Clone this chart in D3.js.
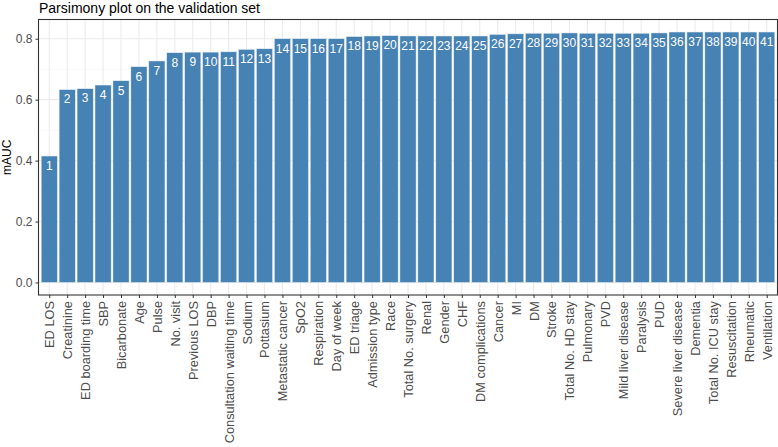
<!DOCTYPE html>
<html>
<head>
<meta charset="utf-8">
<script src="https://cdn.jsdelivr.net/npm/d3@7"></script>
<style>
  body { margin: 0; background: #fff; }
  svg { font-family: "Liberation Sans", Arial, sans-serif; }
</style>
</head>
<body>
<div class="plot"></div>
<script>
// feature order, as added to the model
var features = ["ED LOS", "Creatinine", "ED boarding time", "SBP", "Bicarbonate", "Age", "Pulse",
    "No. visit", "Previous LOS", "DBP", "Consultation waiting time", "Sodium", "Pottasium",
    "Metastatic cancer", "SpO2", "Respiration", "Day of week", "ED triage", "Admission type",
    "Race", "Total No. surgery", "Renal", "Gender", "CHF", "DM complications", "Cancer", "MI",
    "DM", "Stroke", "Total No. HD stay", "Pulmonary", "PVD", "Mild liver disease", "Paralysis",
    "PUD", "Severe liver disease", "Dementia", "Total No. ICU stay", "Resuscitation",
    "Rheumatic", "Ventilation"];

var mauc = [0.415, 0.633, 0.636, 0.648, 0.662, 0.708, 0.727, 0.754, 0.756, 0.756, 0.757,
    0.765, 0.767, 0.800, 0.800, 0.800, 0.800, 0.807, 0.809, 0.810, 0.809, 0.809, 0.809,
    0.809, 0.809, 0.814, 0.816, 0.818, 0.818, 0.819, 0.818, 0.818, 0.818, 0.818, 0.819,
    0.822, 0.822, 0.822, 0.822, 0.822, 0.822];

var yTicks = [0, 0.2, 0.4, 0.6, 0.8];
var yMinor = [0.1, 0.3, 0.5, 0.7];

var W = 778, H = 447,
    m = {t: 19.5, r: 0.5, b: 152, l: 38.5},
    w = W - m.l - m.r,
    h = H - m.t - m.b;

var data = features.map(function(f, i){ return {name: f, rank: i + 1, value: mauc[i]}; });

var svg = d3.select('.plot').append('svg')
    .attr('width', W).attr('height', H);

var g = svg.append('g').attr('transform', 'translate(' + m.l + ',' + m.t + ')');

// ggplot-style discrete expansion (0.6 units each side)
var n = features.length;
var x = d3.scaleLinear().domain([0.4, n + 0.6]).range([0, w]);
var bw = (x(1) - x(0)) * 0.9;

var ymax = d3.max(mauc);
var y = d3.scaleLinear().domain([-ymax * 0.05, ymax * 1.05]).range([h, 0]);

// grid
g.selectAll('.minor').data(yMinor).enter().append('line')
    .attr('x1', 0).attr('x2', w)
    .attr('y1', function(d){ return y(d); }).attr('y2', function(d){ return y(d); })
    .attr('stroke', '#f2f2f2').attr('stroke-width', 0.6);
g.selectAll('.major').data(yTicks).enter().append('line')
    .attr('x1', 0).attr('x2', w)
    .attr('y1', function(d){ return y(d); }).attr('y2', function(d){ return y(d); })
    .attr('stroke', '#ebebeb').attr('stroke-width', 1.1);
g.selectAll('.vgrid').data(data).enter().append('line')
    .attr('x1', function(d){ return x(d.rank); }).attr('x2', function(d){ return x(d.rank); })
    .attr('y1', 0).attr('y2', h)
    .attr('stroke', '#ebebeb').attr('stroke-width', 1.1);

// bars
g.selectAll('.bar').data(data).enter().append('rect')
    .attr('x', function(d){ return x(d.rank) - bw / 2; })
    .attr('width', bw)
    .attr('y', function(d){ return y(d.value); })
    .attr('height', function(d){ return y(0) - y(d.value); })
    .attr('fill', '#4682b4')
    .attr('stroke', '#e8eef4').attr('stroke-width', 0.5);

g.selectAll('.lab').data(data).enter().append('text')
    .attr('x', function(d){ return x(d.rank); })
    .attr('y', function(d){ return y(d.value) + 13.8; })
    .attr('text-anchor', 'middle')
    .attr('fill', '#fff')
    .style('font-size', '12px')
    .text(function(d){ return d.rank; });

// panel border
g.append('rect').attr('width', w).attr('height', h)
    .attr('fill', 'none').attr('stroke', '#333').attr('stroke-width', 1.1);

// y axis
var yAxis = g.append('g').call(d3.axisLeft(y).tickValues(yTicks).tickFormat(d3.format('.1f')).tickSize(3).tickPadding(3));
yAxis.select('.domain').remove();
yAxis.selectAll('line').attr('stroke', '#333');
yAxis.selectAll('text').attr('fill', '#4d4d4d').style('font-size', '12px');

// x axis
var xAxis = g.append('g').attr('transform', 'translate(0,' + h + ')')
    .call(d3.axisBottom(x).tickValues(d3.range(1, n + 1)).tickSize(3)
        .tickFormat(function(d){ return features[d - 1]; }));
xAxis.select('.domain').remove();
xAxis.selectAll('line').attr('stroke', '#333');
xAxis.selectAll('text')
    .attr('fill', '#4d4d4d').style('font-size', '12.8px')
    .attr('transform', 'rotate(-90)')
    .attr('text-anchor', 'end')
    .attr('x', -6).attr('y', 0).attr('dy', '0.35em');

// titles
svg.append('text').attr('x', 39).attr('y', 13)
    .style('font-size', '14px').attr('fill', '#000')
    .text('Parsimony plot on the validation set');

svg.append('text')
    .attr('transform', 'translate(10.5,' + (m.t + h / 2) + ') rotate(-90)')
    .attr('text-anchor', 'middle')
    .style('font-size', '12px').attr('fill', '#000')
    .text('mAUC');
</script>
</body>
</html>
